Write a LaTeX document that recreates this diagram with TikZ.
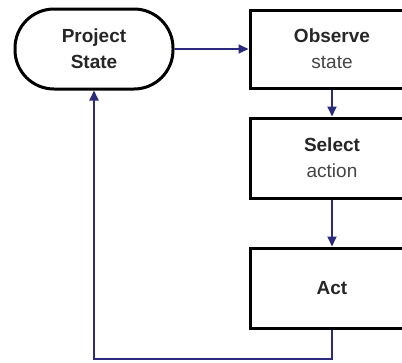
\documentclass[tikz,border=0pt]{standalone}
\usepackage{fontspec}
\setmainfont{Liberation Sans}
\usetikzlibrary{arrows.meta}
\definecolor{flowblue}{HTML}{2B2B7E}
\definecolor{boxtext}{HTML}{262626}
\definecolor{subtext}{HTML}{454545}
\tikzset{
  stepbox/.style={draw=black, line width=3pt, fill=white, minimum width=164pt,
    minimum height=80pt, align=center, text=boxtext,
    font=\fontsize{19}{26}\selectfont},
  statebox/.style={stepbox, minimum width=158pt, rounded corners=39pt},
  flow/.style={draw=flowblue, line width=1.8pt,
    -{Triangle[length=10pt,width=9pt]}},
}
\newcommand{\sub}[1]{{\fontseries{m}\selectfont\color{subtext}#1}}
\begin{document}
\begin{tikzpicture}[x=1pt,y=-1pt]
  \clip (0,0) rectangle (402,362);
  \fill[white] (0,0) rectangle (402,362);
  % process nodes
  \node[statebox] (proj) at (94,49) {\bfseries Project\\\bfseries State};
  \node[stepbox, minimum height=78pt] (obs) at (332,49) {\bfseries Observe\\\sub{state}};
  \node[stepbox] (sel) at (332,158) {\bfseries Select\\\sub{action}};
  \node[stepbox] (act) at (332,288) {\bfseries Act};
  % return path below the last step
  \coordinate (back) at (332,359);
  % connectors
  \draw[flow] (proj.east) -- (obs.west);
  \draw[flow] (obs.south) -- (sel.north);
  \draw[flow] (sel.south) -- (act.north);
  \draw[flow] (act.south) -- (back) -| (proj.south);
\end{tikzpicture}
\end{document}
